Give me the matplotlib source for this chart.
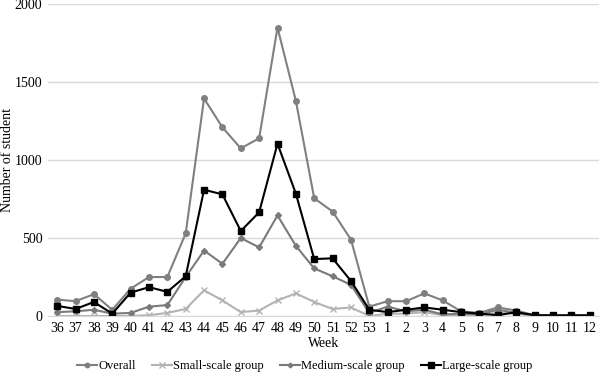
import matplotlib
matplotlib.use("Agg")
import matplotlib.pyplot as plt

weeks = ["36","37","38","39","40","41","42","43","44","45","46","47","48","49","50","51","52","53",
         "1","2","3","4","5","6","7","8","9","10","11","12"]
overall = [105,95,140,40,175,250,250,530,1395,1210,1075,1140,1850,1380,755,670,490,60,
           95,95,145,100,30,20,55,35,5,0,0,0]
small = [0,0,0,0,0,5,20,45,165,100,25,35,100,145,90,45,55,0,
         15,15,25,5,5,5,20,15,0,0,0,0]
medium = [25,30,40,15,20,60,70,250,420,335,500,440,645,450,305,255,200,20,
          60,30,40,10,15,10,40,20,5,0,0,0]
large = [65,45,90,15,150,185,155,255,810,780,545,665,1105,785,365,370,225,40,
         25,40,55,40,25,15,5,25,5,5,5,5]
yticks = [0,500,1000,1500,2000]

plt.rcParams['font.family'] = ['Liberation Serif', 'DejaVu Serif']
fig = plt.figure(figsize=(6.0,3.78), dpi=100)
ax = fig.add_axes([0.08, 0.164, 0.918, 0.825])
x = list(range(len(weeks)))
ax.plot(x, overall, color='#808080', marker='o', markersize=4, lw=1.5, label='Overall')
ax.plot(x, small, color='#b3b3b3', marker='x', markersize=5, lw=1.5, label='Small-scale group')
ax.plot(x, medium, color='#7a7a7a', marker='D', markersize=3, lw=1.5, label='Medium-scale group')
ax.plot(x, large, color='black', marker='s', markersize=5, lw=1.5, label='Large-scale group')
ax.set_xlim(-0.5, len(weeks)-0.5)
ax.set_ylim(0, 2000)
ax.set_xticks(x)
ax.set_xticklabels(weeks, fontsize=10)
ax.set_yticks(yticks)
ax.set_yticklabels([str(v) for v in yticks], fontsize=10)
ax.grid(axis='y', color='#d9d9d9', lw=1)
ax.set_axisbelow(True)
for s in ['top','right','left']:
    ax.spines[s].set_visible(False)
ax.spines['bottom'].set_color('#d9d9d9')
ax.tick_params(length=0, pad=4)
ax.set_xlabel('Week', fontsize=10, labelpad=2)
ax.set_ylabel('Number of student', fontsize=10)
ax.yaxis.set_label_coords(-0.062, 0.5)
fig.legend(loc='center', bbox_to_anchor=(0.508, 0.032), ncol=4, frameon=False, fontsize=9,
           handlelength=1.6, columnspacing=1.3, handletextpad=0.1, borderpad=0, markerscale=0.8)
fig.savefig('out.png', dpi=100)
